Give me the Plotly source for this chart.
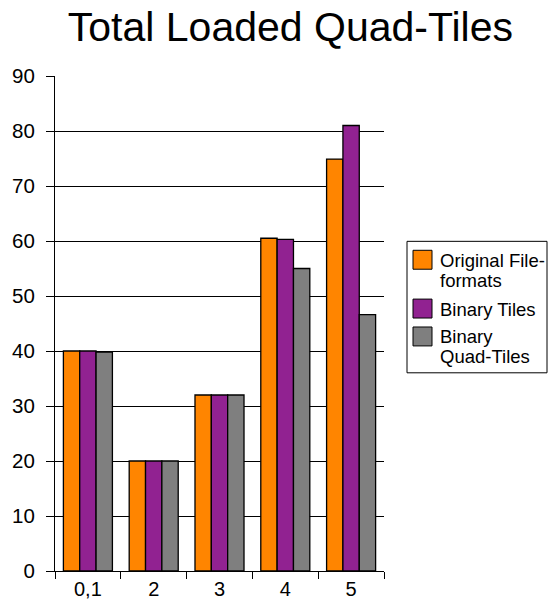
import plotly.graph_objects as go

# Zoom levels on the category axis
levels = ["0,1", "2", "3", "4", "5"]

# Loaded quad-tiles per zoom level for each storage scheme
original_formats = [40.0, 20.0, 32.0, 60.5, 74.9]
binary_tiles = [40.0, 20.0, 32.0, 60.3, 81.0]
binary_quad_tiles = [39.8, 20.0, 32.0, 55.0, 46.6]

series_names = ["Original File-formats", "Binary Tiles", "Binary Quad-Tiles"]
legend_lines = [["Original File-", "formats"], ["Binary Tiles"], ["Binary", "Quad-Tiles"]]
series_values = [original_formats, binary_tiles, binary_quad_tiles]
series_colors = ["#FF8500", "#912291", "#7F7F7F"]

W, H = 549, 612
ML, MR, MT, MB = 55, 165, 76, 39
PW, PH = W - ML - MR, H - MT - MB


def px(xpix):
    """Page x pixel -> paper coordinate."""
    return (xpix - ML) / PW


def py(ypix):
    """Page y pixel -> paper coordinate."""
    return (H - MB - ypix) / PH


fig = go.Figure()
for name, vals, color in zip(series_names, series_values, series_colors):
    fig.add_trace(go.Bar(
        x=levels, y=vals, name=name, showlegend=False,
        marker=dict(color=color, line=dict(color="black", width=1.3)),
    ))

font_family = "Liberation Sans, Arial, sans-serif"

# Boxed legend to the right of the plot, with large square swatches
shapes = [dict(
    type="rect", xref="paper", yref="paper",
    x0=px(407), x1=px(547), y0=py(374), y1=py(242),
    line=dict(color="black", width=1), fillcolor="white", layer="below",
)]
annotations = []
swatch_tops = [251, 300, 328]
line_step = 20
for lines, color, top in zip(legend_lines, series_colors, swatch_tops):
    shapes.append(dict(
        type="rect", xref="paper", yref="paper",
        x0=px(413), x1=px(432), y0=py(top + 19), y1=py(top),
        line=dict(color="black", width=1), fillcolor=color,
    ))
    for i, line in enumerate(lines):
        annotations.append(dict(
            xref="paper", yref="paper", x=px(438), y=py(top + 10 + i * line_step),
            xanchor="left", yanchor="middle", showarrow=False, text=line,
            font=dict(size=18.5, family=font_family, color="black"),
        ))

fig.update_layout(
    width=W, height=H,
    margin=dict(l=ML, r=MR, t=MT, b=MB),
    paper_bgcolor="white", plot_bgcolor="white",
    barmode="group", bargap=0.255, bargroupgap=0,
    font=dict(family=font_family, color="black"),
    showlegend=False,
    title=dict(
        text="Total Loaded Quad-Tiles",
        font=dict(size=41, family=font_family, color="black"),
        x=0.529, xanchor="center", y=0.957, yanchor="middle",
    ),
    shapes=shapes,
    annotations=annotations,
    xaxis=dict(
        showline=True, linecolor="black", linewidth=1,
        ticks="outside", ticklen=7, tickcolor="black", tickson="boundaries",
        tickfont=dict(size=20),
        showgrid=False,
    ),
    yaxis=dict(
        range=[0, 90], dtick=10,
        showline=True, linecolor="black", linewidth=1,
        ticks="outside", ticklen=8, tickcolor="black",
        tickfont=dict(size=20.5), ticklabelstandoff=7,
        showgrid=True, gridcolor="black", gridwidth=1,
        zeroline=False,
    ),
)

fig.write_html("out.html")
